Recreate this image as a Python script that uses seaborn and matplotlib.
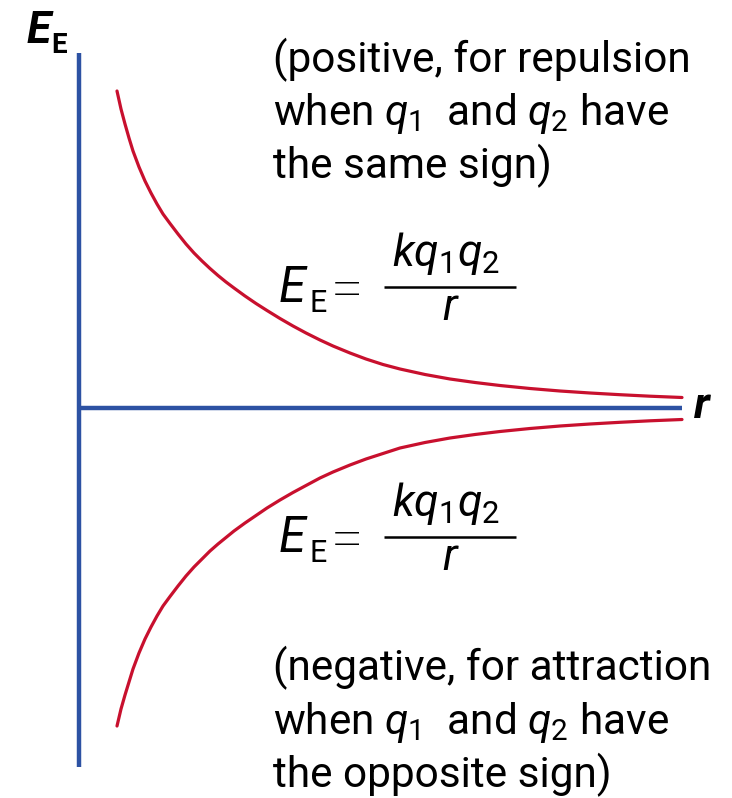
import matplotlib
matplotlib.use("Agg")
import matplotlib.pyplot as plt
import seaborn as sns

# =====================
# DATA (r and E in picture units)
# =====================
r_values = [38, 42, 46, 50, 54, 60, 66, 72, 78, 84, 91, 99, 107, 115, 123, 131, 139, 147, 155, 166,
            177, 188, 201, 214, 227, 241, 254, 271, 287, 304, 321, 346, 371, 396, 421, 451, 481, 511, 541, 571, 603]
E_repulsion = [317, 299, 284, 270, 257, 241, 227, 215, 204, 194, 184.5, 174, 164, 155, 147, 139.5, 132.5, 126, 120, 112,
               104.5, 97.5, 89.5, 82, 75, 68, 62, 55, 49, 43.5, 39, 33.5, 29, 25.5, 22.5, 19.5, 17, 15, 13.3, 11.8, 10.5]
E_attraction = [-318, -301, -287, -274, -261, -245, -231, -219, -208, -198, -188.5, -178, -168, -159, -151, -143, -136,
                -129.5, -123, -115, -107.5, -100, -92, -84.5, -77.5, -70, -64, -57, -51, -45.5, -40, -34.5, -30,
                -26.5, -23.5, -20.5, -18, -16, -14.3, -12.8, -11.5]

r_axis_end = 603
E_axis_top = 355
E_axis_bottom = -359

# =====================
# STYLE
# =====================
sns.set_style("white")
plt.rcParams['font.family'] = ['Roboto', 'DejaVu Sans']
plt.rcParams['text.color'] = 'black'
plt.rcParams['mathtext.fontset'] = 'custom'
plt.rcParams['mathtext.rm'] = 'Roboto'
plt.rcParams['mathtext.it'] = 'Roboto:italic'
plt.rcParams['mathtext.bf'] = 'Roboto:bold'

blue = "#2D52A3"
red = "#C8102E"

fig = plt.figure(figsize=(7.32, 7.98), dpi=100)
ax = fig.add_axes([0, 0, 1, 1])
ax.set_xlim(-79, 653)
ax.set_ylim(-390, 408)
ax.axis("off")


def px(x, y):
    # picture pixel -> data position
    return x - 79, 408 - y


# axes
ax.plot([0, 0], [E_axis_bottom, E_axis_top], color=blue, lw=3.2, solid_capstyle="butt")
ax.plot([0, r_axis_end], [0, 0], color=blue, lw=3.2, solid_capstyle="butt")

# curves
sns.lineplot(x=r_values, y=E_repulsion, color=red, lw=2.3, ax=ax, legend=False)
sns.lineplot(x=r_values, y=E_attraction, color=red, lw=2.3, ax=ax, legend=False)

# axis labels
ax.text(*px(27, 43), "E", fontsize=32, fontweight="bold", fontstyle="italic", va="baseline")
ax.text(*px(51, 53), "E", fontsize=20, fontweight="bold", va="baseline")
ax.text(*px(694, 418), "r", fontsize=32, fontweight="bold", fontstyle="italic", va="baseline")

# notes
upper_lines = ["(positive, for repulsion", r"when $q_1$  and $q_2$ have", "the same sign)"]
lower_lines = ["(negative, for attraction", r"when $q_1$  and $q_2$ have", "the opposite sign)"]
for line, base in zip(upper_lines, [72, 125, 178]):
    ax.text(*px(273, base), line, fontsize=30.5, va="baseline")
for line, base in zip(lower_lines, [680, 734, 787]):
    ax.text(*px(273, base), line, fontsize=30.5, va="baseline")


def formula(bar_y):
    ax.text(*px(279, bar_y + 15), "E", fontsize=35, fontstyle="italic", va="baseline")
    ax.text(*px(309, bar_y + 25), "E", fontsize=22, va="baseline")
    ax.text(*px(347, bar_y + 20), "=", fontsize=42, fontweight="light", ha="center", va="baseline")
    x0, y0 = px(384, bar_y)
    x1, _ = px(516, bar_y)
    ax.plot([x0, x1], [y0, y0], color="black", lw=1.8, solid_capstyle="butt")
    ax.text(*px(446, bar_y - 21), r"$kq_1q_2$", fontsize=32, ha="center", va="baseline")
    ax.text(*px(451, bar_y + 33), r"$r$", fontsize=32, ha="center", va="baseline")


formula(287)
formula(537)

plt.savefig("out.png", dpi=100)
plt.close()
